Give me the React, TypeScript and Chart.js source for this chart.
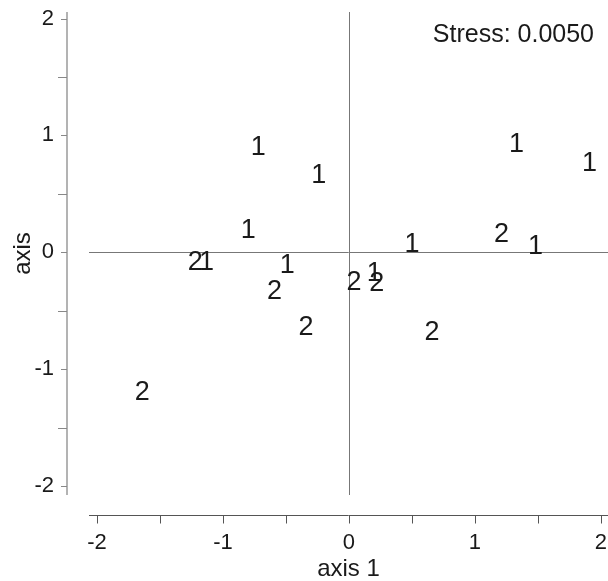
import React, { useEffect, useRef } from 'react';
import { Chart, registerables } from 'chart.js';

Chart.register(...registerables);

// ---- data ----
const group1Label = '1';
const group1X = [-0.72, -0.24, -0.8, -1.13, -0.49, 0.2, 0.5, 1.33, 1.91, 1.48];
const group1Y = [0.9, 0.66, 0.19, -0.09, -0.11, -0.18, 0.07, 0.92, 0.76, 0.05];

const group2Label = '2';
const group2X = [-1.22, -0.59, -0.34, 0.04, 0.22, 0.66, 1.21, -1.64];
const group2Y = [-0.09, -0.34, -0.64, -0.26, -0.27, -0.69, 0.15, -1.2];

const xTickValues = [-2, -1.5, -1, -0.5, 0, 0.5, 1, 1.5, 2];
const yTickValues = [-2, -1.5, -1, -0.5, 0, 0.5, 1, 1.5, 2];
const xRange = [-2.063, 2.056];
const yRange = [-2.077, 2.056];

const xTitle = 'axis 1';
const yTitle = 'axis';
const stressText = 'Stress: 0.0050';

const FONT = "'Liberation Sans', Arial, Helvetica, sans-serif";
const TEXT = '#1a1a1a';

const toPoints = (xs: number[], ys: number[]) => xs.map((x, i) => ({ x, y: ys[i] }));

const decorPlugin = {
  id: 'mdsDecor',
  beforeDatasetsDraw(chart: any) {
    const { ctx, chartArea: ca, scales } = chart;
    const xs = scales.x;
    const ys = scales.y;
    ctx.save();
    ctx.lineCap = 'butt';

    // reference lines at 0
    ctx.strokeStyle = '#777777';
    ctx.lineWidth = 1;
    const x0 = Math.round(xs.getPixelForValue(0)) + 0.5;
    const y0 = Math.round(ys.getPixelForValue(0)) + 0.5;
    ctx.beginPath();
    ctx.moveTo(ca.left, y0);
    ctx.lineTo(ca.right, y0);
    ctx.moveTo(x0, ca.top);
    ctx.lineTo(x0, ca.bottom);
    ctx.stroke();

    // y axis (detached, left of the plot region)
    const yAxisX = ca.left - 22;
    ctx.strokeStyle = '#9a9a9a';
    ctx.lineWidth = 1.5;
    ctx.beginPath();
    ctx.moveTo(yAxisX, ys.getPixelForValue(yRange[1]));
    ctx.lineTo(yAxisX, ys.getPixelForValue(yRange[0]));
    ctx.stroke();
    ctx.lineWidth = 1;
    ctx.strokeStyle = '#888888';
    ctx.beginPath();
    yTickValues.forEach((v) => {
      const py = Math.round(ys.getPixelForValue(v)) + 0.5;
      const len = Number.isInteger(v) ? 6 : 9;
      ctx.moveTo(yAxisX - len, py);
      ctx.lineTo(yAxisX, py);
    });
    ctx.stroke();

    // x axis (detached, below the plot region)
    const xAxisY = ca.bottom + 20.5;
    ctx.strokeStyle = '#555555';
    ctx.lineWidth = 1;
    ctx.beginPath();
    ctx.moveTo(xs.getPixelForValue(xRange[0]), xAxisY);
    ctx.lineTo(xs.getPixelForValue(xRange[1]), xAxisY);
    xTickValues.forEach((v) => {
      const px = Math.round(xs.getPixelForValue(v)) + 0.5;
      ctx.moveTo(px, xAxisY);
      ctx.lineTo(px, xAxisY + 8);
    });
    ctx.stroke();
    ctx.restore();
  },
  afterDatasetsDraw(chart: any) {
    const { ctx, chartArea: ca } = chart;
    ctx.save();
    ctx.fillStyle = TEXT;
    ctx.textAlign = 'center';
    ctx.textBaseline = 'middle';
    ctx.font = `27px ${FONT}`;
    chart.data.datasets.forEach((ds: any, i: number) => {
      const meta = chart.getDatasetMeta(i);
      meta.data.forEach((el: any) => {
        ctx.fillText(ds.label, el.x, el.y);
      });
    });
    ctx.font = `25px ${FONT}`;
    ctx.textAlign = 'right';
    ctx.textBaseline = 'alphabetic';
    ctx.fillText(stressText, ca.right - 14, ca.top + 30);
    ctx.restore();
  },
};

export default function App() {
  const canvasRef = useRef<HTMLCanvasElement | null>(null);

  useEffect(() => {
    const canvas = canvasRef.current;
    if (!canvas) return;
    const chart = new Chart(canvas, {
      type: 'scatter',
      data: {
        datasets: [
          { label: group1Label, data: toPoints(group1X, group1Y), pointRadius: 0, pointHoverRadius: 0 },
          { label: group2Label, data: toPoints(group2X, group2Y), pointRadius: 0, pointHoverRadius: 0 },
        ],
      },
      options: {
        responsive: false,
        animation: false,
        devicePixelRatio: 1,
        events: [],
        layout: { padding: { top: 12, left: 0, right: 0, bottom: 0 } },
        plugins: {
          legend: { display: false },
          tooltip: { enabled: false },
        },
        scales: {
          x: {
            type: 'linear',
            position: 'bottom',
            min: xRange[0],
            max: xRange[1],
            bounds: 'data',
            afterBuildTicks: (s: any) => {
              s.ticks = xTickValues.map((v) => ({ value: v }));
            },
            afterFit: (s: any) => {
              s.height = 86;
              s.paddingLeft = 0;
              s.paddingRight = 0;
              s.paddingTop = 0;
              s.paddingBottom = 0;
            },
            grid: { display: false, drawTicks: false },
            border: { display: false },
            ticks: {
              autoSkip: false,
              maxRotation: 0,
              minRotation: 0,
              padding: 37,
              color: TEXT,
              font: { size: 22, family: FONT, lineHeight: 1 },
              callback: (v: any) => (Number.isInteger(v) ? String(v) : ''),
            },
            title: {
              display: true,
              text: xTitle,
              color: TEXT,
              font: { size: 24, family: FONT, lineHeight: 1 },
              padding: 0,
            },
          },
          y: {
            type: 'linear',
            position: 'left',
            min: yRange[0],
            max: yRange[1],
            bounds: 'data',
            afterBuildTicks: (s: any) => {
              s.ticks = yTickValues.map((v) => ({ value: v }));
            },
            afterFit: (s: any) => {
              s.width = 89;
              s.paddingLeft = 0;
              s.paddingRight = 0;
              s.paddingTop = 0;
              s.paddingBottom = 0;
            },
            grid: { display: false, drawTicks: false },
            border: { display: false },
            ticks: {
              autoSkip: false,
              padding: 35,
              color: TEXT,
              font: { size: 22, family: FONT, lineHeight: 1 },
              callback: (v: any) => (Number.isInteger(v) ? String(v) : ''),
            },
            title: {
              display: true,
              text: yTitle,
              color: TEXT,
              font: { size: 24, family: FONT },
              padding: { top: 9, bottom: 0 },
            },
          },
        },
      },
      plugins: [decorPlugin],
    } as any);
    return () => chart.destroy();
  }, []);

  return (
    <div style={{ position: 'absolute', left: 0, top: 0, width: 608, height: 581, background: '#ffffff' }}>
      <canvas ref={canvasRef} width={608} height={581} style={{ display: 'block' }} />
    </div>
  );
}
